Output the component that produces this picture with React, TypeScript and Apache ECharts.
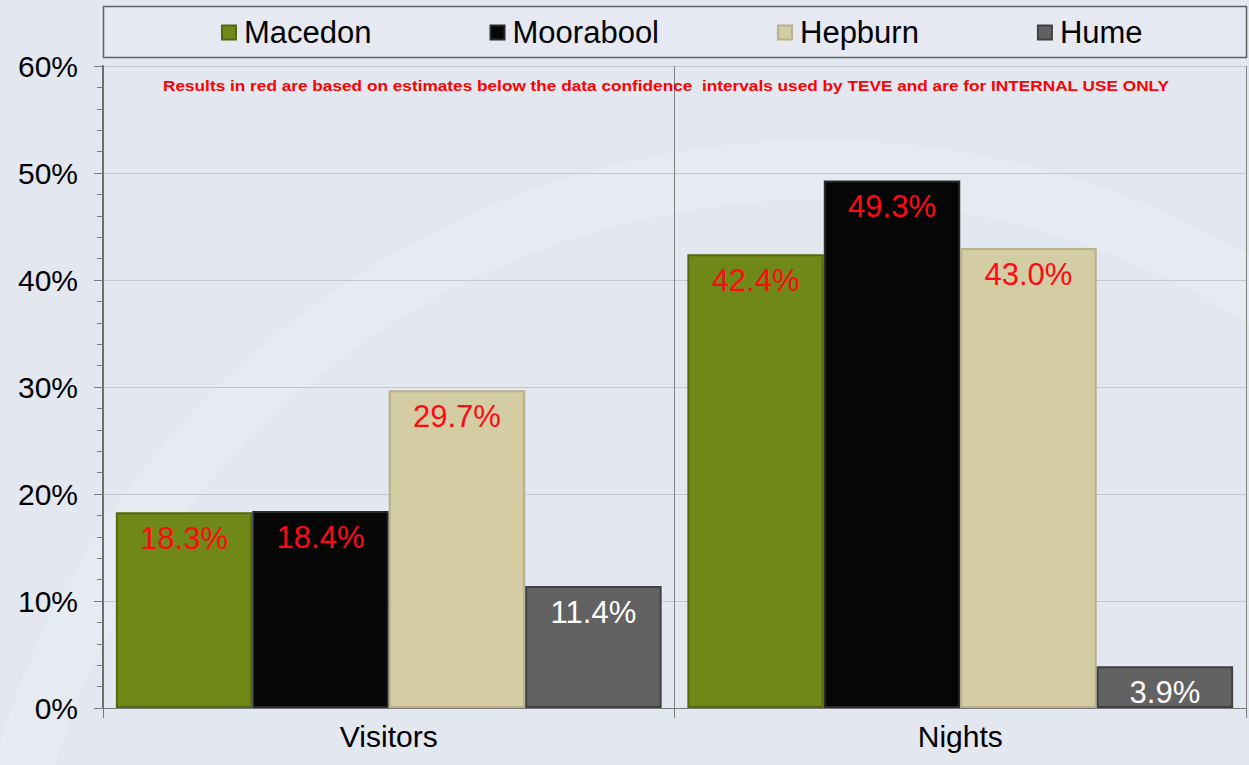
import React, { useEffect, useRef } from "react";
import * as echarts from "echarts";

const categories = ["Visitors", "Nights"];
const seriesNames = ["Macedon", "Moorabool", "Hepburn", "Hume"];
const macedon = [18.3, 42.4];
const moorabool = [18.4, 49.3];
const hepburn = [29.7, 43.0];
const hume = [11.4, 3.9];
const seriesValues = [macedon, moorabool, hepburn, hume];
const seriesColors = ["#6f8818", "#060606", "#d4cca2", "#626262"];
const borderColors = ["#55680f", "#2a2a2a", "#b8b088", "#404040"];
const labelColors = ["#ff0a14", "#ff0a14", "#ff0a14", "#ffffff"];
const note =
  "Results in red are based on estimates below the data confidence  intervals used by TEVE and are for INTERNAL USE ONLY";

export default function App() {
  const ref = useRef<HTMLDivElement>(null);
  useEffect(() => {
    if (!ref.current) return;
    const chart = echarts.init(ref.current, null, { renderer: "svg" });
    const font = "'Liberation Sans', Arial, sans-serif";
    chart.setOption({
      animation: false,
      backgroundColor: "#e3e7f0",
      textStyle: { fontFamily: font },
      graphic: [
        {
          type: "ring",
          z: -10,
          silent: true,
          shape: { cx: 820, cy: 1000, r: 860, r0: 800 },
          style: { fill: "rgba(255,255,255,0.12)" },
        },
        {
          type: "rect",
          z: 1,
          silent: true,
          shape: { x: 103.5, y: 6.5, width: 1143, height: 51 },
          style: { fill: "#e6e9f2", stroke: "#606060", lineWidth: 1.5 },
        },
        {
          type: "text",
          z: 10,
          x: 163,
          y: 86,
          scaleX: 1.232,
          style: {
            text: note,
            fill: "#ff0000",
            font: `bold 14px ${font}`,
            verticalAlign: "middle",
            align: "left",
          },
        },
      ],
      legend: {
        z: 5,
        left: 221,
        top: 17,
        padding: 0,
        itemWidth: 14,
        itemHeight: 14,
        itemGap: 118,
        icon: "rect",
        textStyle: { fontSize: 31, color: "#000", fontFamily: font, padding: [0, 0, 0, 3] },
        data: seriesNames,
      },
      grid: { left: 103, right: 3, top: 66, bottom: 57 },
      xAxis: {
        type: "category",
        data: categories,
        axisLine: { lineStyle: { color: "#7a7a7a", width: 1 } },
        axisTick: { show: true, length: 10, lineStyle: { color: "#7a7a7a" } },
        splitLine: { show: true, lineStyle: { color: "#808080", width: 1 } },
        axisLabel: { fontSize: 30, color: "#000", margin: 13, fontFamily: font },
      },
      yAxis: {
        type: "value",
        min: 0,
        max: 60,
        interval: 10,
        axisLine: { show: true, lineStyle: { color: "#6e6e6e", width: 2 } },
        axisTick: { show: true, length: 9, lineStyle: { color: "#7a7a7a" } },
        minorTick: { show: true, splitNumber: 5, length: 6, lineStyle: { color: "#7a7a7a" } },
        splitLine: { show: true, lineStyle: { color: "#c4c6cc", width: 1 } },
        axisLabel: {
          fontSize: 30,
          color: "#000",
          margin: 25,
          fontFamily: font,
          formatter: (v: number) => `${v}%`,
        },
      },
      series: seriesNames.map((name, i) => ({
        name,
        type: "bar",
        data: seriesValues[i],
        barGap: "0%",
        barCategoryGap: "4.5%",
        itemStyle: {
          color: seriesColors[i],
          borderColor: borderColors[i],
          borderWidth: 2,
        },
        label: {
          show: true,
          position: "insideTop",
          distance: 11,
          color: labelColors[i],
          fontSize: 31,
          fontFamily: font,
          formatter: (p: any) => `${Number(p.value).toFixed(1)}%`,
        },
      })),
    });
    return () => chart.dispose();
  }, []);
  return (
    <div
      ref={ref}
      style={{ position: "fixed", left: 0, top: 0, width: 1249, height: 765 }}
    />
  );
}
